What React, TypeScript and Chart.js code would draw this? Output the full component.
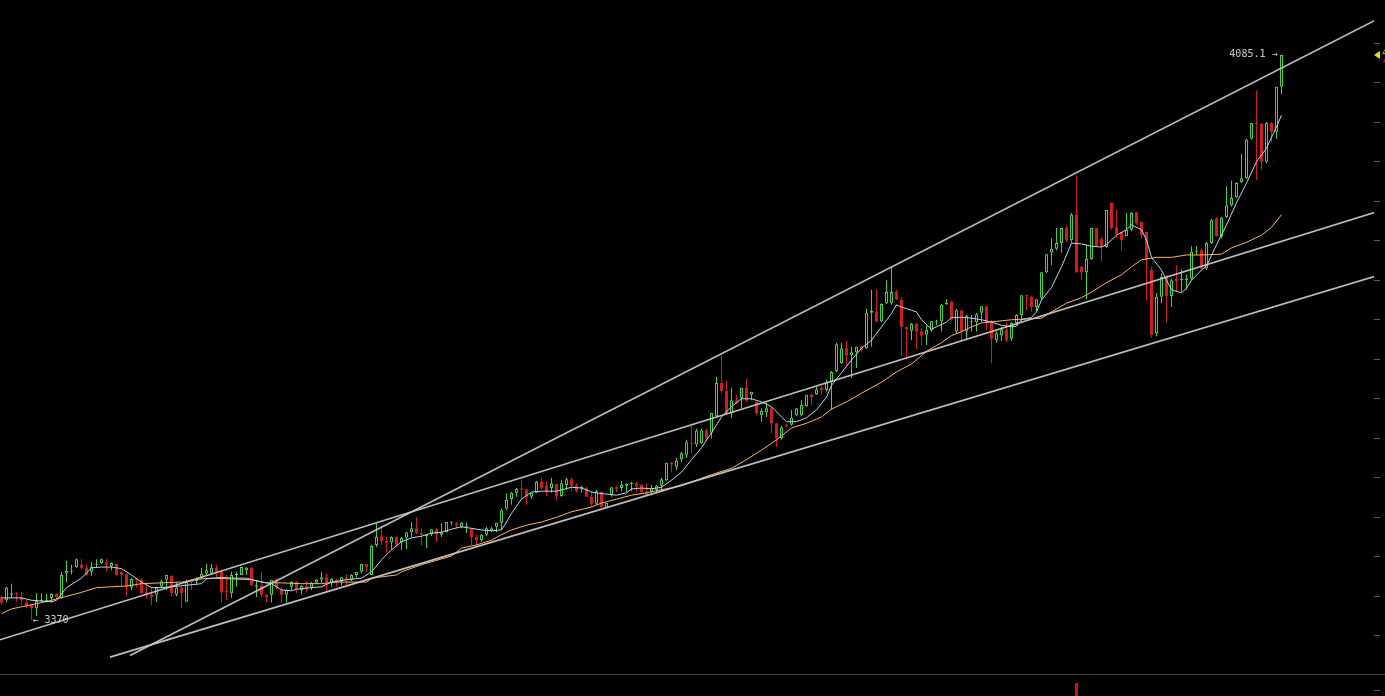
import { useEffect, useRef } from 'react';
import { Chart, registerables } from 'chart.js';

Chart.register(...registerables);

// ---- candle data (one candle per bar, index 0..256) ----
const openP = [
  3398,3395,3402,3404,3399,3392,3389,3385,3394,3394,
  3398,3403,3398,3429,3431,3437,3440,3436,3431,3440,
  3442,3443,3438,3441,3431,3428,3411,3422,3421,3405,
  3402,3402,3412,3421,3426,3402,3411,3393,3421,3419,
  3423,3429,3429,3436,3431,3407,3404,3427,3427,3433,
  3436,3412,3414,3402,3402,3421,3408,3402,3412,3418,
  3408,3413,3411,3417,3421,3424,3417,3421,3419,3423,
  3421,3427,3431,3441,3427,3465,3476,3470,3468,3475,
  3468,3474,3481,3486,3480,3476,3479,3485,3478,3481,
  3493,3492,3488,3488,3486,3475,3471,3478,3483,3488,
  3493,3511,3523,3531,3536,3535,3526,3531,3545,3540,
  3537,3542,3527,3541,3548,3540,3537,3537,3526,3517,
  3532,3512,3528,3538,3537,3540,3542,3543,3541,3531,
  3532,3535,3540,3547,3569,3564,3573,3579,3594,3592,
  3594,3610,3607,3628,3670,3660,3632,3648,3651,3664,
  3655,3646,3629,3633,3638,3619,3600,3617,3617,3629,
  3629,3641,3655,3656,3664,3661,3671,3685,3695,3714,
  3705,3709,3716,3714,3759,3760,3748,3771,3771,3785,
  3775,3741,3736,3745,3735,3731,3737,3747,3748,3770,
  3773,3735,3762,3735,3747,3747,3759,3767,3747,3724,
  3730,3737,3726,3746,3756,3781,3779,3766,3778,3810,
  3835,3840,3847,3866,3851,3883,3817,3810,3827,3866,
  3852,3842,3898,3867,3861,3856,3864,3886,3874,3861,
  3813,3733,3779,3804,3780,3802,3800,3800,3802,3836,
  3838,3815,3847,3878,3855,3880,3895,3905,3924,3929,
  3979,3999,3998,3950,3999,3988,4045
];
const highP = [
  3400,3412,3416,3405,3405,3395,3390,3404,3404,3403,
  3404,3404,3431,3445,3440,3448,3447,3440,3443,3447,
  3448,3447,3443,3441,3432,3429,3423,3423,3423,3417,
  3412,3412,3421,3427,3426,3417,3412,3421,3422,3424,
  3436,3441,3441,3440,3432,3427,3431,3431,3437,3437,
  3437,3421,3431,3402,3421,3423,3412,3409,3419,3419,
  3414,3419,3418,3422,3431,3429,3423,3422,3424,3428,
  3428,3431,3441,3441,3465,3492,3489,3475,3476,3476,
  3475,3481,3494,3500,3486,3479,3485,3486,3492,3494,
  3495,3494,3494,3493,3486,3478,3479,3488,3488,3493,
  3511,3530,3532,3537,3549,3536,3531,3546,3550,3545,
  3550,3542,3547,3550,3550,3543,3540,3538,3532,3535,
  3533,3518,3538,3540,3546,3543,3545,3545,3542,3543,
  3541,3541,3550,3569,3570,3575,3583,3598,3616,3612,
  3612,3612,3632,3678,3705,3673,3664,3655,3664,3675,
  3659,3646,3638,3645,3640,3619,3616,3618,3636,3638,
  3648,3655,3656,3665,3666,3674,3685,3721,3721,3723,
  3716,3716,3717,3764,3788,3788,3771,3800,3818,3788,
  3779,3741,3746,3746,3740,3743,3748,3750,3770,3776,
  3774,3764,3762,3756,3756,3759,3767,3767,3750,3735,
  3741,3747,3747,3757,3781,3781,3780,3776,3810,3833,
  3853,3866,3866,3869,3885,3933,3818,3845,3866,3866,
  3855,3889,3898,3889,3861,3885,3886,3886,3874,3861,
  3817,3784,3809,3807,3802,3819,3814,3807,3843,3843,
  3840,3848,3878,3880,3880,3919,3926,3924,3960,3979,
  3999,4040,3999,4000,4000,4045,4085.1
];
const lowP = [
  3389,3392,3398,3393,3389,3385,3370,3375,3393,3392,
  3392,3397,3397,3418,3428,3436,3435,3426,3426,3436,
  3441,3431,3433,3426,3413,3400,3408,3411,3403,3397,
  3389,3393,3411,3408,3400,3400,3385,3393,3408,3414,
  3422,3427,3427,3424,3392,3395,3398,3412,3427,3427,
  3413,3399,3399,3392,3392,3408,3392,3392,3408,3404,
  3402,3405,3408,3416,3417,3405,3412,3412,3414,3413,
  3419,3424,3429,3431,3427,3462,3465,3455,3459,3462,
  3459,3460,3475,3479,3465,3461,3476,3469,3475,3481,
  3490,3486,3486,3480,3465,3465,3469,3476,3481,3481,
  3484,3509,3516,3526,3523,3516,3523,3531,3535,3527,
  3531,3521,3526,3535,3533,3531,3531,3526,3513,3516,
  3513,3512,3526,3532,3533,3532,3533,3532,3531,3527,
  3528,3531,3532,3546,3557,3560,3570,3575,3581,3589,
  3593,3598,3600,3627,3657,3629,3626,3643,3638,3646,
  3648,3629,3621,3627,3607,3589,3598,3614,3616,3628,
  3628,3640,3642,3655,3655,3659,3636,3684,3694,3690,
  3676,3689,3709,3713,3716,3747,3747,3770,3769,3775,
  3704,3702,3724,3713,3718,3718,3735,3743,3735,3769,
  3748,3732,3722,3724,3735,3735,3747,3737,3695,3721,
  3723,3722,3723,3743,3748,3762,3760,3760,3775,3809,
  3819,3838,3835,3848,3848,3810,3800,3776,3826,3842,
  3824,3841,3864,3853,3838,3856,3862,3870,3853,3775,
  3727,3729,3771,3747,3766,3785,3785,3788,3800,3832,
  3813,3813,3846,3855,3853,3879,3893,3904,3923,3928,
  3978,3927,3940,3948,3975,3979,4035
];
const closeP = [
  3392,3411,3404,3403,3395,3388,3385,3394,3395,3395,
  3403,3399,3427,3432,3432,3447,3436,3427,3437,3441,
  3447,3440,3442,3427,3428,3412,3422,3421,3404,3402,
  3399,3411,3419,3427,3404,3411,3404,3418,3418,3421,
  3429,3433,3436,3431,3405,3405,3427,3428,3437,3436,
  3414,3414,3402,3399,3421,3411,3402,3408,3418,3409,
  3413,3409,3417,3421,3424,3417,3422,3419,3424,3421,
  3427,3431,3441,3437,3464,3475,3470,3468,3475,3465,
  3474,3481,3486,3480,3478,3478,3485,3478,3481,3494,
  3494,3490,3493,3489,3475,3471,3478,3486,3486,3493,
  3509,3522,3531,3536,3535,3526,3531,3545,3537,3532,
  3543,3527,3543,3548,3540,3533,3538,3526,3517,3533,
  3513,3518,3538,3536,3541,3542,3543,3540,3532,3528,
  3537,3540,3548,3569,3567,3572,3581,3595,3593,3610,
  3610,3600,3632,3670,3660,3632,3648,3645,3664,3648,
  3659,3632,3635,3638,3619,3600,3614,3616,3626,3638,
  3642,3655,3652,3662,3661,3671,3684,3719,3714,3705,
  3709,3716,3712,3759,3761,3748,3770,3785,3785,3776,
  3741,3738,3745,3735,3730,3737,3748,3748,3769,3771,
  3750,3762,3735,3755,3748,3757,3767,3747,3726,3733,
  3738,3724,3746,3756,3781,3780,3766,3776,3810,3833,
  3840,3847,3866,3851,3883,3810,3810,3827,3866,3843,
  3842,3889,3866,3859,3851,3864,3885,3872,3857,3826,
  3731,3779,3804,3780,3800,3799,3802,3802,3836,3837,
  3815,3847,3876,3856,3879,3895,3904,3923,3929,3978,
  3999,3998,3950,3999,3988,4045,4085.1
];

// ---- moving averages: [candle index, price] ----
const fastMa: [number, number][] = [
  [0,3398],[4,3398],[6,3395],[10,3393],[11,3395],[13,3411],[16,3423],[18,3436],[20,3437],[22,3437],
  [24,3435],[26,3427],[28,3418],[30,3411],[32,3411],[34,3412],[37,3414],[40,3416],[41,3422],[44,3424],
  [46,3423],[49,3423],[52,3418],[54,3416],[56,3408],[58,3407],[59,3409],[62,3411],[64,3412],[66,3418],
  [69,3421],[72,3423],[74,3431],[76,3446],[78,3459],[80,3469],[82,3474],[84,3476],[86,3480],[88,3481],
  [90,3485],[92,3488],[94,3486],[96,3484],[98,3483],[100,3484],[101,3494],[102,3505],[104,3523],[106,3532],
  [108,3533],[111,3533],[114,3538],[116,3537],[118,3532],[120,3530],[123,3528],[125,3531],[126,3536],[128,3537],
  [130,3536],[132,3538],[134,3547],[136,3557],[138,3573],[140,3588],[142,3607],[144,3627],[146,3640],[148,3650],
  [150,3650],[152,3646],[154,3640],[156,3627],[157,3621],[159,3621],[161,3626],[163,3636],[165,3652],[166,3667],
  [168,3683],[170,3699],[172,3714],[174,3724],[176,3741],[178,3758],[179,3769],[180,3766],[182,3762],[183,3760],
  [184,3750],[186,3738],[187,3741],[189,3747],[190,3753],[192,3753],[194,3752],[196,3750],[198,3747],[200,3743],
  [202,3741],[203,3742],[204,3750],[206,3753],[207,3760],[208,3775],[210,3791],[212,3817],[214,3847],[216,3846],
  [218,3843],[220,3842],[221,3845],[223,3857],[225,3864],[226,3870],[228,3864],[229,3851],[230,3829],[232,3813],
  [233,3800],[234,3788],[236,3784],[237,3790],[238,3800],[240,3813],[241,3818],[243,3845],[245,3870],[247,3898],
  [249,3923],[251,3950],[253,3967],[254,3981],[255,3994],[256,4009]
];
const slowMa: [number, number][] = [
  [0,3378],[2,3384],[5,3388],[8,3392],[10,3395],[13,3400],[16,3405],[19,3411],[22,3412],[25,3413],
  [28,3416],[32,3417],[36,3418],[40,3422],[42,3423],[46,3422],[50,3421],[53,3417],[56,3417],[60,3416],
  [64,3416],[67,3418],[70,3418],[73,3418],[74,3423],[79,3427],[80,3431],[84,3440],[90,3451],[92,3461],
  [95,3465],[98,3471],[100,3478],[102,3484],[105,3490],[108,3494],[111,3500],[114,3507],[118,3513],[120,3518],
  [123,3523],[126,3528],[129,3531],[132,3535],[134,3537],[136,3540],[139,3547],[142,3554],[146,3562],[149,3573],
  [152,3585],[155,3598],[158,3613],[161,3619],[164,3627],[166,3637],[169,3646],[172,3657],[176,3671],[179,3684],
  [182,3694],[185,3710],[188,3721],[190,3730],[192,3735],[194,3741],[196,3746],[199,3748],[202,3750],[208,3752],
  [210,3760],[213,3771],[216,3778],[218,3785],[221,3797],[224,3807],[226,3817],[228,3826],[231,3829],[234,3829],
  [237,3832],[240,3832],[244,3833],[246,3841],[249,3848],[252,3857],[254,3867],[256,3883]
];

// ---- trend lines: [candle index, price] end points ----
const upperLine: [number, number][] = [[25.7, 3325], [274.7, 4129]];
const midLine: [number, number][] = [[-0.3, 3345], [274.7, 3886]];
const lowerLine: [number, number][] = [[21.7, 3323], [274.7, 3805]];

// ---- axes ----
const priceTicks = [3350, 3400, 3450, 3500, 3550, 3600, 3650, 3700, 3750, 3800, 3850, 3900, 3950, 4000, 4050, 4100];
const volIdx = [215];
const volVal = [100];
const volTicks = [40];

// ---- text labels on the chart ----
const noteIdx = [256, 6];
const notePrice = [4085.1, 3370];
const noteText = ['4085.1 →', '← 3370'];
const noteSide = ['left', 'right'];

const X_MIN = -0.3;
const X_MAX = 274.5;
const Y_MIN = 3301.66;
const Y_MAX = 4154.71;

const GREEN = '#46d046';
const RED = '#d21c1c';

const toXY = (pts: [number, number][]) => pts.map(([x, y]) => ({ x, y }));

export default function App() {
  const mainRef = useRef<HTMLCanvasElement>(null);
  const volRef = useRef<HTMLCanvasElement>(null);

  useEffect(() => {
    document.body.style.margin = '0';
    document.body.style.background = '#000';
    const up = closeP.map((c, i) => c >= openP[i]);
    const wickData = closeP.map((_, i) => ({ x: i, y: [lowP[i], highP[i]] }));
    const bodyData = closeP.map((_, i) => ({ x: i, y: [openP[i], closeP[i]] }));

    const notePlugin = {
      id: 'notes',
      afterDraw(chart: any) {
        const { ctx, scales, chartArea } = chart;
        const xs = scales.x;
        const ys = scales.y;
        ctx.save();
        ctx.font = '10px "DejaVu Sans Mono", monospace';
        ctx.fillStyle = '#cfcfcf';
        ctx.textBaseline = 'middle';
        noteText.forEach((t, k) => {
          const px = xs.getPixelForValue(noteIdx[k]);
          const py = ys.getPixelForValue(notePrice[k]);
          if (noteSide[k] === 'left') {
            ctx.textAlign = 'right';
            ctx.fillText(t, px - 4, py - 1);
          } else {
            ctx.textAlign = 'left';
            ctx.fillText(t, px + 1, py);
          }
        });
        // last price marker on the axis
        const last = closeP[closeP.length - 1];
        const ly = ys.getPixelForValue(last);
        const ax = chartArea.right;
        ctx.fillStyle = '#e6e600';
        ctx.beginPath();
        ctx.moveTo(ax, ly);
        ctx.lineTo(ax + 6, ly - 4);
        ctx.lineTo(ax + 6, ly + 4);
        ctx.closePath();
        ctx.fill();
        ctx.fillStyle = '#3cc83c';
        ctx.font = 'bold 9px "DejaVu Sans Mono", monospace';
        ctx.textAlign = 'left';
        ctx.fillText(String(last), ax + 8, ly - 1);
        ctx.fillStyle = '#c81818';
        ctx.fillText(String(last), ax + 9, ly + 7);
        ctx.restore();
      },
    };

    const lineDs = (pts: [number, number][], color: string, width: number, order: number) => ({
      type: 'line' as const,
      data: toXY(pts),
      borderColor: color,
      borderWidth: width,
      pointRadius: 0,
      tension: 0,
      fill: false,
      order,
    });

    const main = new Chart(mainRef.current as HTMLCanvasElement, {
      type: 'bar',
      data: {
        datasets: [
          {
            type: 'bar',
            data: wickData as any,
            backgroundColor: up.map((u) => (u ? GREEN : RED)),
            borderWidth: 0,
            barThickness: 1,
            grouped: false,
            minBarLength: 1,
            inflateAmount: 0,
            order: 6,
          } as any,
          {
            type: 'bar',
            data: bodyData as any,
            backgroundColor: up.map((u) => (u ? '#000000' : RED)),
            borderColor: up.map((u) => (u ? GREEN : RED)),
            borderWidth: up.map((u) => (u ? 1 : 0)),
            borderSkipped: false,
            barThickness: 3,
            grouped: false,
            minBarLength: 1,
            inflateAmount: 0,
            order: 5,
          } as any,
          lineDs(slowMa, '#ffb262', 1, 4) as any,
          lineDs(fastMa, '#b2d9ee', 1, 3) as any,
          lineDs(upperLine, 'rgba(200,200,200,0.95)', 1.6, 1) as any,
          lineDs(midLine, 'rgba(200,200,200,0.95)', 1.6, 1) as any,
          lineDs(lowerLine, 'rgba(200,200,200,0.95)', 1.6, 1) as any,
        ],
      },
      options: {
        animation: false,
        responsive: false,
        maintainAspectRatio: false,
        events: [],
        layout: { padding: 0 },
        plugins: { legend: { display: false }, tooltip: { enabled: false } },
        scales: {
          x: {
            type: 'linear',
            min: X_MIN,
            max: X_MAX,
            offset: false,
            display: false,
            grid: { offset: false },
          },
          y: {
            type: 'linear',
            position: 'right',
            min: Y_MIN,
            max: Y_MAX,
            beginAtZero: false,
            afterBuildTicks: (s: any) => {
              s.ticks = priceTicks.map((v) => ({ value: v }));
            },
            afterFit: (s: any) => {
              s.width = 11;
            },
            ticks: { display: false },
            grid: { drawOnChartArea: false, drawTicks: true, tickLength: 6, tickColor: '#5a5a5a', color: '#5a5a5a' },
            border: { display: false },
          },
        },
      } as any,
      plugins: [notePlugin],
    });

    const vol = new Chart(volRef.current as HTMLCanvasElement, {
      type: 'bar',
      data: {
        datasets: [
          {
            data: volIdx.map((x, k) => ({ x, y: volVal[k] })) as any,
            backgroundColor: '#c81414',
            borderWidth: 0,
            barThickness: 3,
            grouped: false,
            inflateAmount: 0,
          } as any,
        ],
      },
      options: {
        animation: false,
        responsive: false,
        maintainAspectRatio: false,
        events: [],
        layout: { padding: 0 },
        plugins: { legend: { display: false }, tooltip: { enabled: false } },
        scales: {
          x: { type: 'linear', min: X_MIN, max: X_MAX, offset: false, display: false, grid: { offset: false } },
          y: {
            type: 'linear',
            position: 'right',
            min: 0,
            max: 162,
            afterBuildTicks: (s: any) => {
              s.ticks = volTicks.map((v) => ({ value: v }));
            },
            afterFit: (s: any) => {
              s.width = 11;
            },
            ticks: { display: false },
            grid: { drawOnChartArea: false, drawTicks: true, tickLength: 6, tickColor: '#5a5a5a', color: '#5a5a5a' },
            border: { display: false },
          },
        },
      } as any,
    });

    return () => {
      main.destroy();
      vol.destroy();
    };
  }, []);

  return (
    <div style={{ position: 'fixed', left: 0, top: 0, width: 1385, height: 696, background: '#000', overflow: 'hidden' }}>
      <canvas ref={mainRef} width={1385} height={674} style={{ position: 'absolute', left: 0, top: 0, width: 1385, height: 674 }} />
      <div style={{ position: 'absolute', left: 0, top: 674, width: 1385, height: 1, background: '#3e3e3e' }} />
      <canvas ref={volRef} width={1385} height={21} style={{ position: 'absolute', left: 0, top: 675, width: 1385, height: 21 }} />
    </div>
  );
}
